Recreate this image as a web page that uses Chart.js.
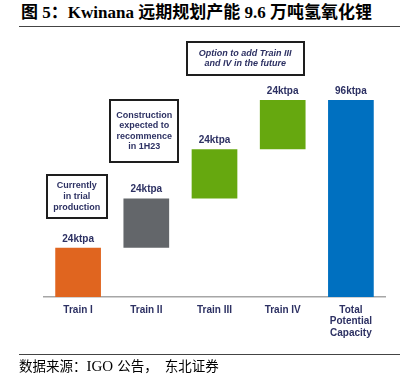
<!DOCTYPE html>
<html>
<head>
<meta charset="utf-8">
<script src="https://cdn.jsdelivr.net/npm/chart.js@4.4.0/dist/chart.umd.min.js"></script>
<style>
body{margin:0;width:410px;height:381px;background:#fff;position:relative;overflow:hidden;}
#title{position:absolute;left:21px;top:3px;font:bold 17px/20px "Liberation Serif","Noto Sans CJK SC";color:#000;white-space:nowrap;}
.rule{position:absolute;left:19px;width:381px;height:1px;background:#444;}
#src{position:absolute;left:19px;top:358px;font:13.5px/16px "Liberation Serif","Noto Sans CJK SC";color:#000;white-space:nowrap;}
#src .lat{font-size:15px;margin-right:4px;}
#src .gap{margin-left:7px;}
#c{position:absolute;left:0;top:0;}
</style>
</head>
<body>
<div id="title">图 5：Kwinana 远期规划产能 9.6 万吨氢氧化锂</div>
<div class="rule" style="top:26px"></div>
<canvas id="c" width="410" height="381"></canvas>
<div class="rule" style="top:354px"></div>
<div id="src">数据来源：<span class="lat">IGO</span>公告，<span class="gap">东北证券</span></div>
<script>
// data
var categories = [["Train I"], ["Train II"], ["Train III"], ["Train IV"], ["Total", "Potential", "Capacity"]];
var barStart = [0, 24, 48, 72, 0];
var barEnd = [24, 48, 72, 96, 96];
var valueLabels = ["24ktpa", "24ktpa", "24ktpa", "24ktpa", "96ktpa"];
var noteTexts = [
	["Currently", "in trial", "production"],
	["Construction", "expected to", "recommence", "in 1H23"],
	["Option to add Train III", "and IV in the future"]
];

var txtColor = '#2D3163';

// where the note boxes sit (category index / value) and how big they are
var noteBoxes = [
	{x: -0.02, y: 49, w: 60, h: 43, italic: false},
	{x: 0.97, y: 80.9, w: 68, h: 62, italic: false},
	{x: 2.45, y: 116.2, w: 117, h: 33, italic: true}
];

var labelPlugin = {
	id: 'labels',
	afterDatasetsDraw: function(chart){
		var ctx = chart.ctx;
		var xs = chart.scales.x, ys = chart.scales.y;
		var meta = chart.getDatasetMeta(0);
		ctx.save();
		ctx.font = 'bold 10px "Liberation Sans", Arial';
		ctx.fillStyle = txtColor;
		ctx.textAlign = 'center';
		ctx.textBaseline = 'middle';
		meta.data.forEach(function(bar, i){
			ctx.fillText(valueLabels[i], bar.x, ys.getPixelForValue(barEnd[i]) - 9);
		});
		// note boxes
		for(var i=0;i<noteBoxes.length;i++){
			var n = noteBoxes[i];
			var cx = xs.getPixelForValue(n.x), cy = ys.getPixelForValue(n.y);
			ctx.lineWidth = 2;
			ctx.strokeStyle = '#1e1e1e';
			ctx.strokeRect(Math.round(cx - n.w/2), Math.round(cy - n.h/2), n.w, n.h);
			ctx.font = (n.italic ? 'italic ' : '') + 'bold 9px "Liberation Sans", Arial';
			ctx.fillStyle = txtColor;
			var lines = noteTexts[i];
			var lh = 10.6;
			var y0 = cy - (lines.length - 1) * lh / 2;
			for(var j=0;j<lines.length;j++){
				ctx.fillText(lines[j], cx, y0 + j * lh);
			}
		}
		ctx.restore();
	}
};

var floating = [];
for(var i=0;i<barStart.length;i++){ floating.push([barStart[i], barEnd[i]]); }

var myChart = new Chart(document.getElementById('c').getContext('2d'), {
	type: 'bar',
	data: {
		labels: categories,
		datasets: [{
			data: floating,
			backgroundColor: ['#E0651F', '#63666A', '#66A80F', '#66A80F', '#0070C0'],
			borderWidth: 0,
			barPercentage: 0.67,
			categoryPercentage: 1
		}]
	},
	options: {
		responsive: false,
		animation: false,
		devicePixelRatio: 1,
		layout: {padding: {left: 44, right: 25, top: 100, bottom: 0}},
		plugins: {legend: {display: false}, tooltip: {enabled: false}},
		scales: {
			x: {
				grid: {display: false, drawTicks: false},
				border: {display: true, color: '#A6A6A6', width: 1.5},
				ticks: {
					color: txtColor,
					padding: 7,
					maxRotation: 0,
					autoSkip: false,
					font: {family: '"Liberation Sans", Arial', size: 10, weight: 'bold', lineHeight: 1.16}
				},
				afterFit: function(s){ s.height = 84; }
			},
			y: {display: false, min: 0, max: 96}
		}
	},
	plugins: [labelPlugin]
});
</script>
</body>
</html>
